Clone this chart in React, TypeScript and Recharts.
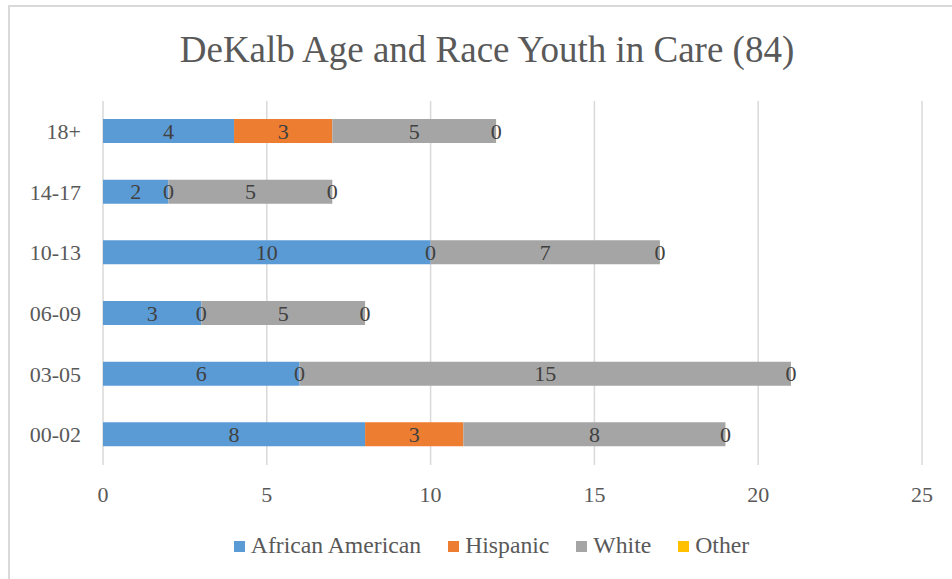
import { BarChart, Bar, XAxis, YAxis, CartesianGrid, Legend, LabelList } from 'recharts';

// top to bottom as drawn
const ageGroups = ['18+', '14-17', '10-13', '06-09', '03-05', '00-02'];
const africanAmerican = [4, 2, 10, 3, 6, 8];
const hispanic = [3, 0, 0, 0, 0, 3];
const white = [5, 5, 7, 5, 15, 8];
const other = [0, 0, 0, 0, 0, 0];
const xTicks = [0, 5, 10, 15, 20, 25];

const series = [
  { key: 'aa', name: 'African American', color: '#5B9BD5' },
  { key: 'hisp', name: 'Hispanic', color: '#ED7D31' },
  { key: 'white', name: 'White', color: '#A5A5A5' },
  { key: 'other', name: 'Other', color: '#FFC000' },
];

const data = ageGroups.map((age, i) => ({
  age,
  aa: africanAmerican[i],
  hisp: hispanic[i],
  white: white[i],
  other: other[i],
}));

const font = '"Liberation Serif", serif';

const renderLegend = () => (
  <div style={{ display: 'flex', justifyContent: 'center', fontFamily: font, fontSize: 23.7, color: '#595959', lineHeight: '26px' }}>
    {series.map((s, i) => (
      <div key={s.key} style={{ display: 'flex', alignItems: 'center', marginLeft: i === 0 ? 0 : 27 }}>
        <span style={{ display: 'inline-block', width: 11, height: 11, background: s.color, marginRight: 6, marginTop: 2 }} />
        <span>{s.name}</span>
      </div>
    ))}
  </div>
);

export default function App() {
  return (
    <div style={{ position: 'absolute', left: 0, top: 0, width: 952, height: 579, overflow: 'hidden', background: '#fff', fontFamily: font }}>
      <div style={{ position: 'absolute', left: 8, top: 5, width: 1000, height: 700, borderLeft: '2px solid #d9d9d9', borderTop: '2px solid #d9d9d9' }} />
      <div
        style={{
          position: 'absolute',
          left: 0,
          top: 31,
          width: 974,
          textAlign: 'center',
          fontFamily: font,
          fontSize: 37,
          lineHeight: '37px',
          color: '#595959',
        }}
      >
        DeKalb Age and Race Youth in Care (84)
      </div>
      <BarChart
        width={952}
        height={579}
        data={data}
        layout="vertical"
        margin={{ top: 101, right: 30, bottom: 74, left: 0 }}
        style={{ position: 'absolute', left: 0, top: 0 }}
      >
        <CartesianGrid horizontal={false} stroke="#d9d9d9" strokeWidth={1.5} />
        <XAxis
          type="number"
          domain={[0, 25]}
          ticks={xTicks}
          axisLine={false}
          tickLine={false}
          tickSize={0}
          tickMargin={21}
          height={40}
          tick={{ fill: '#595959', fontSize: 22, fontFamily: font }}
        />
        <YAxis
          type="category"
          dataKey="age"
          width={103}
          axisLine={false}
          tickLine={false}
          tickSize={0}
          tickMargin={22}
          tick={{ fill: '#595959', fontSize: 22, fontFamily: font }}
        />
        <Legend
          verticalAlign="middle"
          layout="horizontal"
          align="center"
          content={renderLegend}
          wrapperStyle={{ top: 532, left: 0, width: 983 }}
        />
        {series.map((s) => (
          <Bar
            key={s.key}
            dataKey={s.key}
            name={s.name}
            stackId="a"
            fill={s.color}
            barSize={24}
            minPointSize={0.01}
            isAnimationActive={false}
          >
            <LabelList dataKey={s.key} position="center" fill="#404040" fontSize={22} fontFamily={font} />
          </Bar>
        ))}
      </BarChart>
    </div>
  );
}
